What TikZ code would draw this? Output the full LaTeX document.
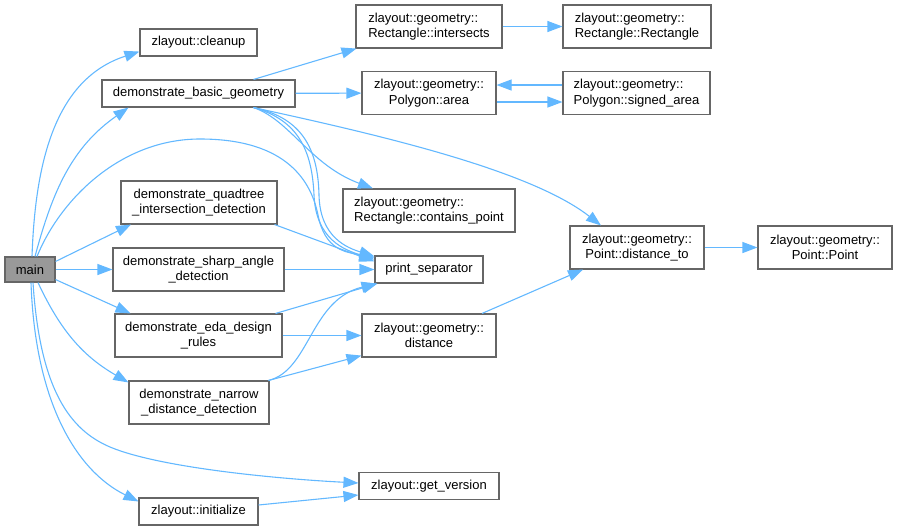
\documentclass[tikz,border=0pt]{standalone}
\usepackage{fontspec}
\setmainfont{Liberation Sans}
\usepackage{xcolor}
\usepackage{tikz}
\usetikzlibrary{positioning, calc, arrows.meta}
\definecolor{edgeblue}{HTML}{63B8FF}
\definecolor{boxgray}{HTML}{666666}
\definecolor{maingray}{HTML}{999999}
\tikzset{
    fnnode/.style={
        draw=boxgray, line width=1.1pt, fill=white, inner sep=0pt,
        font=\fontsize{13}{15.5}\selectfont, align=center, minimum height=27pt
    },
    twoline/.style={
        fnnode, minimum height=43pt
    },
    mainnode/.style={
        fnnode, fill=maingray, minimum height=25pt
    },
    callptr/.style={
        -{Triangle[length=15pt,width=11pt]}, line width=1.1pt, edgeblue
    }
}

\begin{document}
\begin{tikzpicture}[x=1pt, y=1pt]
    \useasboundingbox (0,0) rectangle (897,-531);

    % Các hàm gọi trực tiếp từ main
    \node[mainnode, minimum width=50pt] (main) at (30,-269.5) {main};
    \node[fnnode, minimum width=117pt] (cleanup) at (198.5,-42.5) {zlayout::cleanup};
    \node[fnnode, minimum width=193pt] (basicgeo) at (198.5,-93.5) {demonstrate\_basic\_geometry};
    \node[twoline, minimum width=156pt] (quadtree) at (199,-202.5) {demonstrate\_quadtree\\\_intersection\_detection};
    \node[twoline, minimum width=171pt] (sharpangle) at (198.5,-269.5) {demonstrate\_sharp\_angle\\\_detection};
    \node[twoline, minimum width=167pt] (edarules) at (198.5,-335.5) {demonstrate\_eda\_design\\\_rules};
    \node[twoline, minimum width=140pt] (narrowdist) at (199,-402.5) {demonstrate\_narrow\\\_distance\_detection};
    \node[fnnode, minimum width=119pt] (initialize) at (198.5,-511.5) {zlayout::initialize};

    % Cột thứ hai
    \node[twoline, minimum width=146pt, align=left] (intersects) at (429,-26.5) {zlayout::geometry::\\Rectangle::intersects};
    \node[twoline, minimum width=134pt] (polyarea) at (429,-93) {zlayout::geometry::\\Polygon::area};
    \node[twoline, minimum width=172pt, align=left] (containspt) at (429,-210.5) {zlayout::geometry::\\Rectangle::contains\_point};
    \node[fnnode, minimum width=108pt] (printsep) at (429,-269.5) {print\_separator};
    \node[twoline, minimum width=134pt] (geodist) at (429,-335.5) {zlayout::geometry::\\distance};
    \node[fnnode, minimum width=140pt] (getversion) at (429,-486) {zlayout::get\_version};

    % Cột bên phải
    \node[twoline, minimum width=148pt, align=left] (rectctor) at (637,-26.5) {zlayout::geometry::\\Rectangle::Rectangle};
    \node[twoline, minimum width=147pt, align=left] (signedarea) at (636.5,-93) {zlayout::geometry::\\Polygon::signed\_area};
    \node[twoline, minimum width=134pt] (distto) at (637,-247.5) {zlayout::geometry::\\Point::distance\_to};
    \node[twoline, minimum width=134pt] (pointctor) at (825,-247.5) {zlayout::geometry::\\Point::Point};

    % Cạnh từ main
    \draw[callptr] ([xshift=2pt]main.north) to[out=88,in=198] ([yshift=5pt]cleanup.south west);
    \draw[callptr] ([xshift=5pt]main.north) to[out=75,in=215] ([xshift=-70pt]basicgeo.south);
    \draw[callptr] ([xshift=7pt]main.north) .. controls (60,-200) and (120,-139) .. (200,-139)
        .. controls (280,-139) and (310,-175) .. (318,-215)
        .. controls (325,-250) and (345,-252) .. ([yshift=-2pt]printsep.north west);
    \draw[callptr] ([yshift=-5pt]main.north east) -- ([xshift=-68pt]quadtree.south);
    \draw[callptr] (main) -- (sharpangle);
    \draw[callptr] ([yshift=3pt]main.south east) -- ([xshift=-68pt]edarules.north);
    \draw[callptr] ([xshift=8pt]main.south) to[out=-65,in=150] ([yshift=-2pt]narrowdist.north west);
    \draw[callptr] ([xshift=3pt]main.south) .. controls (40,-390) and (70,-430) .. (110,-447)
        .. controls (160,-468) and (280,-479) .. ([yshift=3pt]getversion.west);
    \draw[callptr] ([xshift=1pt]main.south) .. controls (35,-400) and (75,-470) .. ([yshift=-4pt]initialize.north west);

    % Cạnh từ demonstrate_basic_geometry
    \draw[callptr] ([xshift=55pt]basicgeo.north) -- ([xshift=1pt]intersects.south west);
    \draw[callptr] (basicgeo) -- (polyarea);
    \draw[callptr] ([xshift=55pt]basicgeo.south) .. controls (380,-135) and (530,-170) .. ([xshift=-36pt]distto.north);
    \draw[callptr] ([xshift=55pt]basicgeo.south) .. controls (290,-120) and (310,-165) .. ([xshift=-56pt]containspt.north);
    \draw[callptr] ([xshift=55pt]basicgeo.south) .. controls (298,-120) and (312,-150) .. (314,-195)
        .. controls (316,-240) and (345,-250) .. ([yshift=-4pt]printsep.north west);
    \draw[callptr] ([xshift=55pt]basicgeo.south) .. controls (303,-118) and (318,-150) .. (319,-195)
        .. controls (320,-238) and (348,-248) .. ([yshift=-1pt]printsep.north west);

    % Các lời gọi print_separator và distance
    \draw[callptr] ([xshift=-3pt]quadtree.south east) -- ([yshift=-6pt]printsep.north west);
    \draw[callptr] (sharpangle) -- (printsep);
    \draw[callptr] ([xshift=-7pt]edarules.north east) -- ([xshift=3pt]printsep.south west);
    \draw[callptr] (edarules) -- (geodist);
    \draw[callptr] ([xshift=-1pt]narrowdist.north east) .. controls (310,-370) and (310,-300) .. ([xshift=2pt]printsep.south west);
    \draw[callptr] ([xshift=-1pt]narrowdist.north east) -- ([yshift=2pt]geodist.south west);
    \draw[callptr] ([yshift=6.5pt]initialize.east) -- ([yshift=-9pt]getversion.west);

    % Bên trong zlayout::geometry
    \draw[callptr] ([xshift=53pt]geodist.north) -- ([xshift=-54pt]distto.south);
    \draw[callptr] (distto) -- (pointctor);
    \draw[callptr] (intersects) -- (rectctor);
    \draw[callptr] ([yshift=-9pt]polyarea.east) -- ([yshift=-9pt]signedarea.west);
    \draw[callptr] ([yshift=8pt]signedarea.west) -- ([yshift=8pt]polyarea.east);

\end{tikzpicture}
\end{document}
